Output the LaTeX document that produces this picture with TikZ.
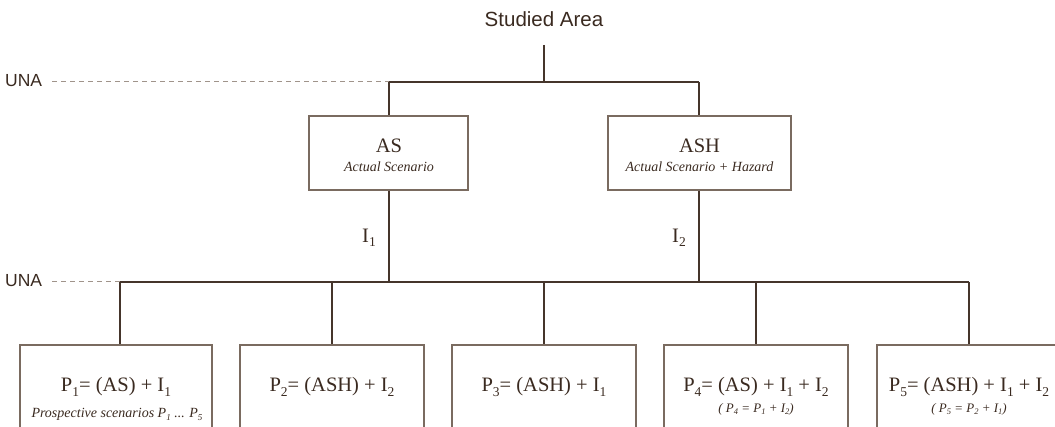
\documentclass[tikz,border=0pt]{standalone}
\usepackage{fontspec}
\setmainfont{Liberation Serif}
\newfontfamily\sansf{Liberation Sans}
\definecolor{txtC}{HTML}{3A2A20}
\definecolor{lineC}{HTML}{45352B}
\definecolor{boxC}{HTML}{7A6B60}
\definecolor{dashC}{HTML}{A0948B}
\newcommand{\lsub}[1]{\raisebox{-4.5pt}{\fontsize{13.5}{13.5}\selectfont #1}}
\newcommand{\isub}[1]{\raisebox{-3pt}{\fontsize{9}{9}\selectfont #1}}
\newcommand{\ssub}[1]{\raisebox{-2.5pt}{\fontsize{8.5}{8.5}\selectfont #1}}
\tikzset{
  conn/.style={draw=lineC, line width=1.7pt},
  unaline/.style={draw=dashC, line width=1pt, dash pattern=on 5pt off 4pt},
  boxs/.style={draw=boxC, line width=1.2pt, rectangle, inner sep=0pt},
  lbl/.style={inner sep=0pt, text=txtC},
  big/.style={lbl, font=\fontsize{20.5}{24}\selectfont},
  ital/.style={lbl, font=\itshape\fontsize{14}{16}\selectfont},
  smit/.style={lbl, font=\itshape\fontsize{13}{14}\selectfont},
  sanslbl/.style={lbl, font=\sansf\fontsize{17.5}{20}\selectfont}
}
\begin{document}
\begin{tikzpicture}[x=1pt,y=-1pt]
\useasboundingbox (0,0) rectangle (1055,427);
\clip (0,0) rectangle (1055,427);

% title
\node[lbl, font=\sansf\fontsize{20.5}{24}\selectfont] (title) at (544,19) {Studied Area};
\coordinate (ttop) at (544,45);
\coordinate (tj) at (544,82);
\coordinate (l1) at (389,82);
\coordinate (r1) at (699,82);
\draw[conn] (ttop) -- (tj);
\draw[conn] (l1) -- (r1);

% UNA top
\node[sanslbl, anchor=west] (una1) at (5,81) {UNA};
\coordinate (d1) at (52,82);
\draw[unaline] (d1) -- (l1);

% AS / ASH boxes
\node[boxs, minimum width=159pt, minimum height=74pt] (as) at (388.5,153) {};
\node[boxs, minimum width=183pt, minimum height=74pt] (ash) at (699.5,153) {};
\node[big] (astxt) at (389,146) {AS};
\node[ital] (assub) at (389,167) {Actual Scenario};
\node[big] (ashtxt) at (699.5,146) {ASH};
\node[ital] (ashsub) at (699.5,167) {Actual Scenario + Hazard};
\draw[conn] (l1) -- (l1 |- as.north);
\draw[conn] (r1) -- (r1 |- ash.north);

% second level
\coordinate (bl) at (389,282);
\coordinate (br) at (699,282);
\draw[conn] (bl |- as.south) -- (bl);
\draw[conn] (br |- ash.south) -- (br);
\node[big, anchor=west] (i1) at (362,238) {I\lsub{1}};
\node[big, anchor=west] (i2) at (672,238) {I\lsub{2}};

\node[sanslbl, anchor=west] (una2) at (5,281) {UNA};
\coordinate (d2) at (52,282);
\coordinate (j1) at (120,282);
\coordinate (j2) at (332,282);
\coordinate (j3) at (544,282);
\coordinate (j4) at (756,282);
\coordinate (j5) at (969,282);
\draw[unaline] (d2) -- (j1);
\draw[conn] (j1) -- (j5);

% bottom boxes
\node[boxs, minimum width=192pt, minimum height=115pt] (p1) at (116,402.5) {};
\node[boxs, minimum width=184pt, minimum height=115pt] (p2) at (332,402.5) {};
\node[boxs, minimum width=184pt, minimum height=115pt] (p3) at (544,402.5) {};
\node[boxs, minimum width=184pt, minimum height=115pt] (p4) at (756,402.5) {};
\node[boxs, minimum width=184pt, minimum height=115pt] (p5) at (969,402.5) {};
\foreach \j/\p in {j1/p1,j2/p2,j3/p3,j4/p4,j5/p5}{
  \draw[conn] (\j) -- (\j |- \p.north);
}

\node[big] (p1t) at (116,387) {P\lsub{1}= (AS) + I\lsub{1}};
\node[ital] (p1s) at (117,414) {Prospective scenarios P\isub{1} ... P\isub{5}};
\node[big] (p2t) at (332,387) {P\lsub{2}= (ASH) + I\lsub{2}};
\node[big] (p3t) at (544,387) {P\lsub{3}= (ASH) + I\lsub{1}};
\node[big] (p4t) at (756,387) {P\lsub{4}= (AS) + I\lsub{1} + I\lsub{2}};
\node[smit] (p4s) at (756,409) {( P\ssub{4} = P\ssub{1} + I\ssub{2})};
\node[big] (p5t) at (969,387) {P\lsub{5}= (ASH) + I\lsub{1} + I\lsub{2}};
\node[smit] (p5s) at (969,409) {( P\ssub{5} = P\ssub{2} + I\ssub{1})};
\end{tikzpicture}
\end{document}
